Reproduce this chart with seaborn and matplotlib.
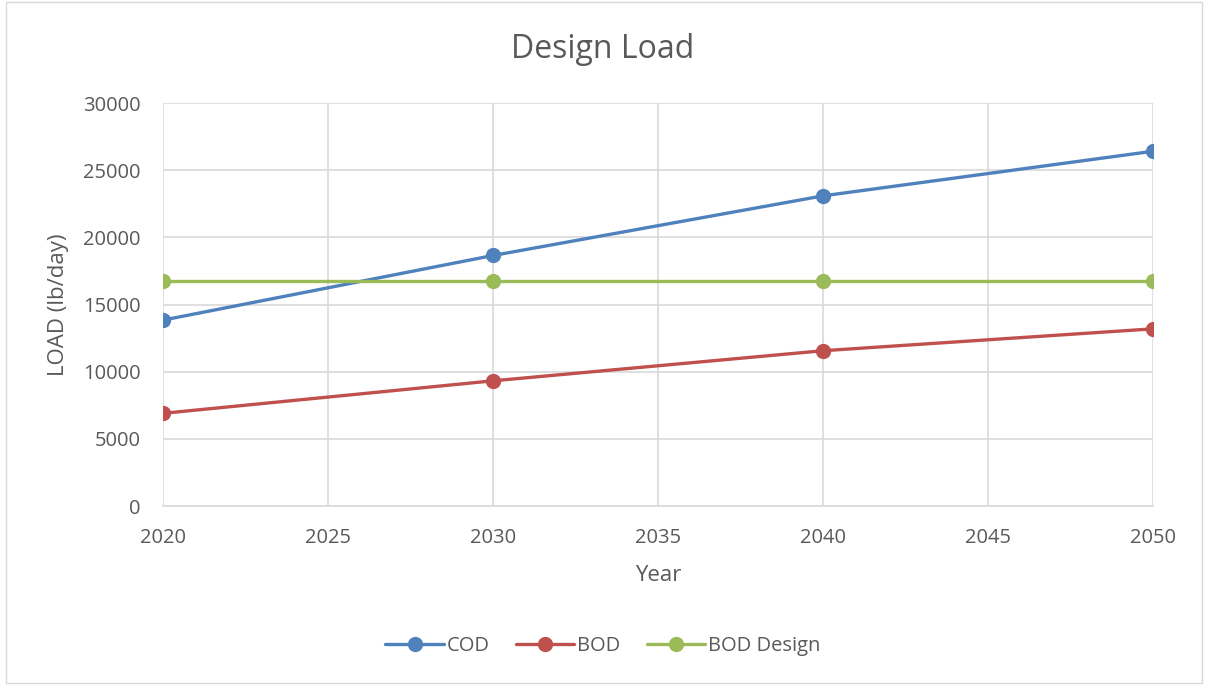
import pandas as pd
import matplotlib.pyplot as plt
import seaborn as sns
from matplotlib.patches import Rectangle

# --- Data ---
years = [2020, 2030, 2040, 2050]
cod = [13840, 18650, 23090, 26410]
bod = [6900, 9320, 11560, 13190]
bod_design = [16740, 16740, 16740, 16740]
series_names = ["COD", "BOD", "BOD Design"]
colors = ["#4f81bd", "#c0504d", "#9bbb59"]

df = pd.concat(
    [
        pd.DataFrame({"Year": years, "Load": vals, "Series": name})
        for name, vals in zip(series_names, [cod, bod, bod_design])
    ],
    ignore_index=True,
)

sns.set_theme(style="white")
plt.rcParams["font.family"] = ["Open Sans", "DejaVu Sans"]
text_color = "#595959"
grid_color = "#d9d9d9"

fig = plt.figure(figsize=(12.06, 6.85), dpi=100)
ax = fig.add_axes([0.1352, 0.2613, 0.8209, 0.5883])

sns.lineplot(
    data=df,
    x="Year",
    y="Load",
    hue="Series",
    hue_order=series_names,
    palette=dict(zip(series_names, colors)),
    marker="o",
    markersize=11,
    markeredgewidth=0,
    linewidth=2.4,
    ax=ax,
)

ax.set_xlim(2020, 2050)
ax.set_ylim(0, 30000)
ax.set_xticks(range(2020, 2051, 5))
ax.set_yticks(range(0, 30001, 5000))
ax.grid(True, color=grid_color, linewidth=1.2)
ax.set_axisbelow(True)
for side in ["top", "right", "left"]:
    ax.spines[side].set_visible(False)
ax.spines["bottom"].set_color(grid_color)
ax.spines["bottom"].set_linewidth(1.2)
ax.tick_params(axis="both", length=0, labelsize=14.5, labelcolor=text_color)
ax.tick_params(axis="x", pad=16)
ax.tick_params(axis="y", pad=16)

# title centred on the figure, not the axes
fig.text(0.5, 1 - 49 / 685, "Design Load", ha="center", va="center",
         fontsize=23, color=text_color)
ax.set_xlabel("Year", fontsize=16, color=text_color, va="center")
ax.set_ylabel("LOAD (lb/day)", fontsize=16, color=text_color, va="center")
ax.xaxis.set_label_coords(0.5, -69 / 403)
ax.yaxis.set_label_coords(-105 / 990, 0.5)

handles, labels = ax.get_legend_handles_labels()
ax.get_legend().remove()
fig.legend(
    handles,
    labels,
    loc="center",
    bbox_to_anchor=(0.5, 1 - 646 / 685),
    ncol=3,
    frameon=False,
    fontsize=14.5,
    labelcolor=text_color,
    handlelength=2.9,
    handletextpad=0.15,
    columnspacing=1.3,
)

# light border around the whole chart
fig.patches.append(
    Rectangle((0.005, 0.003), 0.992, 0.994, transform=fig.transFigure,
              fill=False, edgecolor="#d9d9d9", linewidth=1)
)

fig.savefig("out.png", dpi=100)
